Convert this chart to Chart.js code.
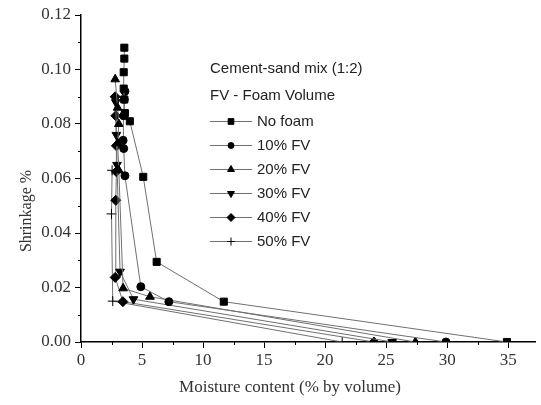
<!DOCTYPE html>
<html><head><meta charset="utf-8">
<script src="https://cdn.jsdelivr.net/npm/chart.js@4/dist/chart.umd.min.js"></script>
<style>html,body{margin:0;padding:0;background:#fff}canvas{display:block}</style>
</head><body>
<canvas id="c" width="541" height="405"></canvas>
<script>
// ---- data ----
const seriesNames = ["No foam", "10% FV", "20% FV", "30% FV", "40% FV", "50% FV"];
const noFoamX = [34.9, 11.7, 6.2, 5.1, 4.0, 3.6, 3.55, 3.5, 3.5, 3.55, 3.55];
const noFoamY = [0.000, 0.0148, 0.0294, 0.0606, 0.081, 0.084, 0.089, 0.093, 0.099, 0.104, 0.108];
const fv10X = [29.9, 7.2, 4.9, 3.6, 3.5, 3.45, 3.5, 3.55, 3.6];
const fv10Y = [0.000, 0.0148, 0.0203, 0.061, 0.071, 0.074, 0.083, 0.089, 0.092];
const fv20X = [27.4, 5.65, 3.45, 3.1, 3.0, 3.1, 3.0, 2.8];
const fv20Y = [0.000, 0.0166, 0.0197, 0.063, 0.073, 0.080, 0.086, 0.0964];
const fv30X = [25.5, 4.3, 3.2, 2.95, 2.9, 2.85];
const fv30Y = [0.000, 0.0157, 0.0258, 0.065, 0.076, 0.088];
const fv40X = [24.0, 3.43, 2.8, 2.85, 2.9, 2.9, 2.85, 2.8];
const fv40Y = [0.000, 0.0148, 0.0237, 0.052, 0.0625, 0.072, 0.083, 0.090];
const fv50X = [21.4, 2.6, 2.5, 2.55];
const fv50Y = [0.000, 0.015, 0.047, 0.063];
const xTicks = [0, 5, 10, 15, 20, 25, 30, 35];
const yTicks = [0.00, 0.02, 0.04, 0.06, 0.08, 0.10, 0.12];
const xMinorTicks = [2.5, 7.5, 12.5, 17.5, 22.5, 27.5, 32.5];
const yMinorTicks = [0.01, 0.03, 0.05, 0.07, 0.09, 0.11];
const legendTitle = ["Cement-sand mix (1:2)", "FV - Foam Volume"];
const xTitle = "Moisture content (% by volume)";
const yTitle = "Shrinkage %";

const xs = [noFoamX, fv10X, fv20X, fv30X, fv40X, fv50X];
const ys = [noFoamY, fv10Y, fv20Y, fv30Y, fv40Y, fv50Y];
const shapes = ["rect", "circle", "triangle", "triangleDown", "rectRot", "cross"];
const radii = [5, 4, 5, 5, 5, 5];

const datasets = seriesNames.map((name, i) => ({
  label: name,
  data: xs[i].map((x, k) => ({x: x, y: ys[i][k]})),
  showLine: true,
  borderColor: "#707070",
  borderWidth: 1,
  pointStyle: shapes[i] === "triangleDown" ? "triangle" : shapes[i],
  pointRotation: shapes[i] === "triangleDown" ? 180 : 0,
  pointRadius: radii[i],
  pointBackgroundColor: "#000",
  pointBorderColor: "#000",
  pointBorderWidth: 1,
  tension: 0
}));

const extras = {
  id: "extras",
  afterDraw(chart) {
    const ctx = chart.ctx;
    const xs_ = chart.scales.x, ys_ = chart.scales.y;
    ctx.save();
    // minor ticks
    ctx.strokeStyle = "#000"; ctx.lineWidth = 1;
    const bottom = chart.chartArea.bottom, left = chart.chartArea.left;
    xMinorTicks.forEach(v => {
      const p = Math.round(xs_.getPixelForValue(v)) + 0.5;
      ctx.beginPath(); ctx.moveTo(p, bottom); ctx.lineTo(p, bottom + 3); ctx.stroke();
    });
    yMinorTicks.forEach(v => {
      const p = Math.round(ys_.getPixelForValue(v)) + 0.5;
      ctx.beginPath(); ctx.moveTo(left, p); ctx.lineTo(left - 3, p); ctx.stroke();
    });
    // axis titles
    ctx.fillStyle = "#333";
    ctx.font = "17px 'Liberation Serif'";
    ctx.textAlign = "center"; ctx.textBaseline = "middle";
    ctx.fillText(xTitle, 290, 388);
    ctx.font = "16px 'Liberation Serif'";
    ctx.save();
    ctx.translate(27, 211); ctx.rotate(-Math.PI / 2);
    ctx.fillText(yTitle, 0, 0);
    ctx.restore();
    // legend
    ctx.font = "15px 'Liberation Sans'";
    ctx.textAlign = "left"; ctx.fillStyle = "#222";
    ctx.fillText(legendTitle[0], 210, 69);
    ctx.fillText(legendTitle[1], 210, 96);
    chart.data.datasets.forEach((ds, i) => {
      const y = 121 + i * 24;
      ctx.strokeStyle = "#707070"; ctx.lineWidth = 1;
      ctx.beginPath(); ctx.moveTo(210, y + 0.5); ctx.lineTo(252, y + 0.5); ctx.stroke();
      ctx.fillStyle = "#000"; ctx.strokeStyle = "#000";
      Chart.helpers.drawPoint(ctx, {pointStyle: ds.pointStyle, rotation: ds.pointRotation, radius: ds.pointRadius - 1, borderWidth: 1}, 231, y + 0.5);
      ctx.fillStyle = "#222";
      ctx.fillText(ds.label, 257, y + 1);
    });
    ctx.restore();
  }
};

Chart.defaults.font.family = "'Liberation Serif'";
new Chart(document.getElementById("c"), {
  type: "scatter",
  data: {datasets},
  options: {
    responsive: false,
    animation: false,
    layout: {padding: {top: 15, right: 1, left: 0, bottom: 0}},
    plugins: {legend: {display: false}, tooltip: {enabled: false}},
    scales: {
      x: {
        type: "linear", min: 0, max: 37.2,
        afterBuildTicks: s => { s.ticks = xTicks.map(v => ({value: v})); },
        afterFit: s => { s.height = 63; },
        grid: {drawOnChartArea: false, drawTicks: true, tickLength: 6, color: "#000"},
        border: {color: "#000", width: 1.5},
        ticks: {font: {size: 17}, color: "#333", padding: 2, maxRotation: 0, autoSkip: false}
      },
      y: {
        type: "linear", min: 0, max: 0.12,
        afterBuildTicks: s => { s.ticks = yTicks.map(v => ({value: v})); },
        afterFit: s => { s.width = 81; },
        grid: {drawOnChartArea: false, drawTicks: true, tickLength: 6, color: "#000"},
        border: {color: "#000", width: 1.5},
        ticks: {font: {size: 17}, color: "#333", padding: 4, autoSkip: false,
                callback: v => Number(v).toFixed(2)}
      }
    }
  },
  plugins: [extras]
});
</script>
</body></html>
